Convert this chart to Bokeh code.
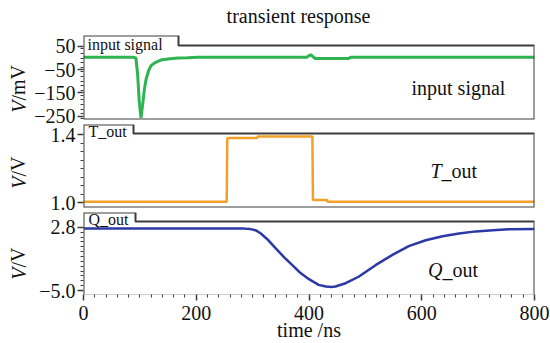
from bokeh.embed import file_html
from bokeh.layouts import column, row
from bokeh.models import FixedTicker, Label, PolyAnnotation, Range1d
from bokeh.plotting import figure
from bokeh.resources import INLINE

# ---------------------------------------------------------------- data
# input signal (mV) versus time (ns)
t_in = [0, 88, 93, 96, 99, 102, 105, 108, 111, 115, 120, 127, 137, 150, 167,
        185, 202, 300, 396, 400, 403, 407, 411, 470, 474, 800]
v_in = [3, 3, 0, -70, -190, -258, -200, -135, -92, -58, -32, -20, -9, -4, 0,
        1, 3, 3, 3, 10, 14, 6, -2, -2, 3, 3]

# T_out (V) versus time (ns)
t_T = [0, 254, 255, 256, 308, 309, 406, 407, 432, 433, 800]
v_T = [1.005, 1.005, 1.37, 1.38, 1.38, 1.388, 1.388, 1.015, 1.015, 1.005, 1.005]

# Q_out (V) versus time (ns)
t_Q = [0, 285, 296, 305, 314, 328, 341, 356, 370, 385, 400, 417, 430, 440,
       447, 465, 488, 518, 548, 577, 607, 637, 666, 696, 726, 754, 800]
v_Q = [2.64, 2.64, 2.58, 2.45, 2.07, 1.2, 0.2, -0.9, -1.83, -2.85, -3.6, -4.3,
       -4.5, -4.55, -4.5, -4.1, -3.3, -1.87, -0.6, 0.48, 1.2, 1.7, 2.03, 2.3,
       2.43, 2.55, 2.58]

# axis ticks and their labels
x_ticks = [0, 200, 400, 600, 800]
in_ticks = [50, -50, -150, -250]
in_tick_labels = ["50", "\u221250", "\u2212150", "\u2212250"]
T_ticks = [1.0, 1.4]
T_tick_labels = ["1.0", "1.4"]
Q_ticks = [2.8, -5.0]
Q_tick_labels = ["2.8", "\u22125.0"]

# ---------------------------------------------------------------- style
FONT = "Liberation Serif"
FRAME = "#3c3c3c"
INK = "#111111"
TOTAL_W, TOTAL_H = 550, 343
TITLE_H = 33          # strip holding the chart title
LABEL_W = 30          # strip holding the rotated y-axis labels
MAIN_W = TOTAL_W - LABEL_W
L_BORDER, R_BORDER = 53, 16
FRAME_L, FRAME_R = L_BORDER, MAIN_W - R_BORDER
OVERLAP = 6           # room below a panel for its lowest tick label


def strip(width, height):
    """Blank drawing area used for text that sits outside the panels."""
    s = figure(width=width, height=height, x_range=Range1d(0, width),
               y_range=Range1d(0, height), output_backend="svg",
               toolbar_location=None, x_axis_location=None,
               y_axis_location=None, min_border=0)
    s.outline_line_color = None
    s.grid.visible = False
    return s


def panel(height, b_top, b_bottom, y_start, y_end, ticks, minor, labels,
          x_axis=False):
    extra = 0 if x_axis else OVERLAP
    p = figure(width=MAIN_W, height=height + extra,
               x_range=Range1d(0, 800), y_range=Range1d(y_start, y_end),
               output_backend="svg", toolbar_location=None,
               min_border_left=L_BORDER, min_border_right=R_BORDER,
               min_border_top=b_top, min_border_bottom=b_bottom + extra,
               x_axis_location="below" if x_axis else None,
               margin=(0, 0, -extra, 0))
    p.outline_line_color = None
    p.grid.visible = False

    ax = p.yaxis[0]
    ax.ticker = FixedTicker(ticks=ticks, minor_ticks=minor)
    ax.major_label_overrides = dict(zip(ticks, labels))
    ax.axis_line_color = None
    ax.major_tick_in, ax.major_tick_out = 0, 6
    ax.minor_tick_in, ax.minor_tick_out = 0, 3
    ax.major_tick_line_color = FRAME
    ax.minor_tick_line_color = FRAME
    ax.major_tick_line_width = 1.5
    ax.major_label_standoff = 2
    ax.major_label_text_font = FONT
    ax.major_label_text_font_size = "20px"
    ax.major_label_text_color = INK

    if x_axis:
        xa = p.xaxis[0]
        xa.ticker = FixedTicker(ticks=x_ticks,
                                minor_ticks=[m for m in range(20, 800, 20) if m % 200])
        xa.axis_line_color = None
        xa.major_tick_in, xa.major_tick_out = 0, 6
        xa.minor_tick_in, xa.minor_tick_out = 0, 3
        xa.major_tick_line_color = FRAME
        xa.minor_tick_line_color = FRAME
        xa.major_tick_line_width = 1.5
        xa.major_label_standoff = 5
        xa.major_label_text_font = FONT
        xa.major_label_text_font_size = "20px"
        xa.major_label_text_color = INK
        xa.axis_label = "time /ns"
        xa.axis_label_text_font = FONT
        xa.axis_label_text_font_size = "20px"
        xa.axis_label_text_font_style = "normal"
        xa.axis_label_text_color = INK
        xa.axis_label_standoff = -4
    return p


def tab_frame(p, top, tab_right, step, bottom):
    """Panel outline with the raised name tab in its top-left corner."""
    p.add_layout(PolyAnnotation(
        xs=[FRAME_L, FRAME_L, tab_right, tab_right, FRAME_R, FRAME_R],
        ys=[bottom, top, top, step, step, bottom],
        xs_units="canvas", ys_units="canvas",
        fill_color=None, fill_alpha=0,
        line_color=FRAME, line_alpha=1.0, line_width=2))


def text(p, x, y, s, size="20px", style="normal", align="left",
         baseline="middle", angle=0.0):
    p.add_layout(Label(x=x, y=y, x_units="canvas", y_units="canvas", text=s,
                       text_font=FONT, text_font_size=size,
                       text_font_style=style, text_color=INK,
                       text_align=align, text_baseline=baseline, angle=angle))


def y_label(p, x, y, unit):
    # italic quantity symbol followed by an upright unit, read bottom to top
    text(p, x, y, "V", style="italic", align="right", angle=1.5708)
    text(p, x, y, "/" + unit, align="left", angle=1.5708)


def split_name(p, x, y, sym):
    text(p, x, y, sym, style="italic", align="right")
    text(p, x, y, "_out", align="left")


# ------------------------------------------------------------ title strip
top = strip(TOTAL_W, TITLE_H)
text(top, 298, 15, "transient response", align="center")

# ------------------------------------------------------------ panel 1
p1 = panel(90, 2, 4, -265, 97, in_ticks,
           [m for m in range(-260, 60, 20) if m not in in_ticks], in_tick_labels)
p1.line(t_in, v_in, line_color="#2db350", line_width=3)
tab_frame(p1, 2, 148, 12, 86)
text(p1, FRAME_L + 4, 11, "input signal", size="16px")
text(p1, 381, 54, "input signal")

# ------------------------------------------------------------ panel 2
p2 = panel(88, 1, 4, 0.971, 1.459, T_ticks,
           [1.05, 1.1, 1.15, 1.2, 1.25, 1.3, 1.35], T_tick_labels)
p2.line(t_T, v_T, line_color="#f2a02a", line_width=2.5)
tab_frame(p2, 1, 103, 10, 84)
text(p2, FRAME_L + 5, 8, "T_out", size="16px")
split_name(p2, 411, 47, "T")

# ------------------------------------------------------------ panel 3
p3 = panel(132, 1, 48, -5.49, 4.63, Q_ticks,
           [round(-5.0 + 0.6 * k, 1) for k in range(1, 13)], Q_tick_labels,
           x_axis=True)
p3.line(t_Q, v_Q, line_color="#2b38a6", line_width=2.5)
tab_frame(p3, 1, 105, 10, 84)
text(p3, FRAME_L + 5, 8, "Q_out", size="16px")
split_name(p3, 412, 58, "Q")

# ------------------------------------------------------------ y-label strip
side = strip(LABEL_W, TOTAL_H - TITLE_H)
y_label(side, 18, 67, "mV")
y_label(side, 18, 143, "V")
y_label(side, 18, 234, "V")

layout = column(top, row(side, column(p1, p2, p3, spacing=0), spacing=0),
                spacing=0)

with open("out.html", "w") as f:
    f.write(file_html(layout, INLINE))
